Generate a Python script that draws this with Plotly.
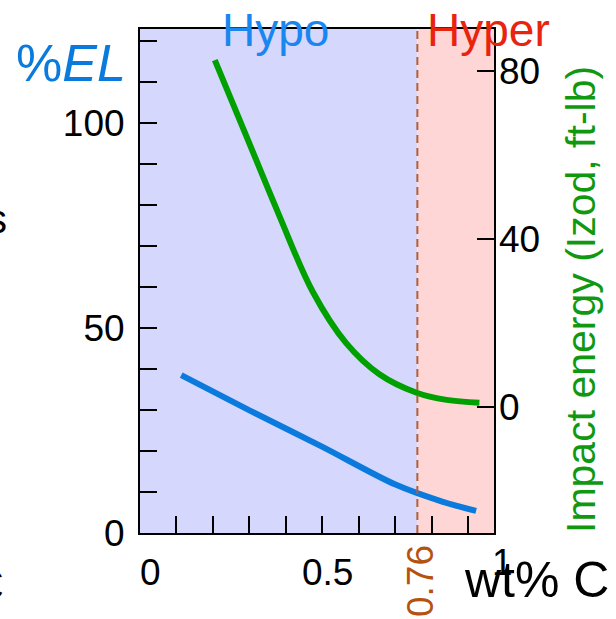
import plotly.graph_objects as go

# ---- data ----
el_x = [0.113, 0.300, 0.500, 0.700, 0.830, 0.921]
el_y = [38.5, 29.9, 21.0, 11.8, 7.6, 5.4]

imp_x = [0.205, 0.290, 0.381, 0.473, 0.565, 0.656, 0.758, 0.840, 0.930]
imp_y = [82.6, 64.8, 45.7, 27.5, 15.2, 7.8, 3.4, 1.7, 1.0]

eutectoid = 0.76
x_range = [0, 0.97]
left_range = [0, 122.9]
right_range = [-30, 90]

x_minor_ticks = [0.1, 0.2, 0.3, 0.4, 0.5, 0.6, 0.7, 0.8, 0.9]
x_tick_text = ["0", "0.5", "1"]
left_tick_vals = [0, 50, 100]
right_tick_vals = [0, 40, 80]

FONT = "Liberation Sans, Arial, Helvetica, sans-serif"
BLUE = "#0a7bdc"
GREEN = "#00a000"
RED = "#e8240c"
BROWN = "#b5520f"

W, H = 616, 619
L, R, T, B = 140, 122, 29, 86
PW, PH = W - L - R, H - T - B


def px(x):
    return (x - L) / PW


def py(y):
    return (H - B - y) / PH


fig = go.Figure()

fig.add_trace(go.Scatter(x=el_x, y=el_y, mode="lines",
                         line=dict(color=BLUE, width=6, shape="spline", smoothing=0.8),
                         showlegend=False, hoverinfo="skip", yaxis="y"))
fig.add_trace(go.Scatter(x=imp_x, y=imp_y, mode="lines",
                         line=dict(color=GREEN, width=6, shape="spline", smoothing=1.0),
                         showlegend=False, hoverinfo="skip", yaxis="y2"))

shapes = [
    dict(type="rect", xref="x", yref="paper", x0=x_range[0], x1=eutectoid, y0=0, y1=1,
         fillcolor="#d5d7fd", line=dict(width=0), layer="below"),
    dict(type="rect", xref="x", yref="paper", x0=eutectoid, x1=x_range[1], y0=0, y1=1,
         fillcolor="#fed6d6", line=dict(width=0), layer="below"),
    dict(type="line", xref="x", yref="paper", x0=eutectoid, x1=eutectoid, y0=0, y1=1,
         line=dict(color="#b0603a", width=2, dash="8px,5px")),
]

annotations = []
# x tick labels
x_label_pos = [(150, 572), (327, 572), (502, 562)]
for (xp_, yp_), t in zip(x_label_pos, x_tick_text):
    annotations.append(dict(xref="paper", yref="paper", x=px(xp_), y=py(yp_), text=t,
                            showarrow=False, xanchor="center", yanchor="middle",
                            font=dict(family=FONT, size=37, color="black")))
# eutectoid label
annotations.append(dict(xref="paper", yref="paper", x=px(420), y=py(581), text=f"{eutectoid}",
                        textangle=-90, showarrow=False, xanchor="center", yanchor="middle",
                        font=dict(family=FONT, size=37, color=BROWN)))
# wt% C
annotations.append(dict(xref="paper", yref="paper", x=px(462), y=py(580), text="wt% C",
                        showarrow=False, xanchor="left", yanchor="middle",
                        font=dict(family=FONT, size=50, color="black")))
# Hypo / Hyper
annotations.append(dict(xref="paper", yref="paper", x=px(275), y=py(30), text="Hypo",
                        showarrow=False, xanchor="center", yanchor="middle",
                        font=dict(family=FONT, size=46, color="#1a86f0")))
annotations.append(dict(xref="paper", yref="paper", x=px(488), y=py(30), text="Hyper",
                        showarrow=False, xanchor="center", yanchor="middle",
                        font=dict(family=FONT, size=46, color=RED)))
# %EL
annotations.append(dict(xref="paper", yref="paper", x=px(128), y=py(63), text="%<i>EL</i>",
                        showarrow=False, xanchor="right", yanchor="middle",
                        font=dict(family=FONT, size=52, color=BLUE)))
# right axis title
annotations.append(dict(xref="paper", yref="paper", x=px(581), y=py(300),
                        text="Impact energy (Izod, ft-lb)", textangle=-90,
                        showarrow=False, xanchor="center", yanchor="middle",
                        font=dict(family=FONT, size=41, color="#109910")))
# cut-off text from neighbouring panel
annotations.append(dict(xref="paper", yref="paper", x=px(9), y=py(219), text="s",
                        showarrow=False, xanchor="right", yanchor="middle",
                        font=dict(family=FONT, size=40, color="black")))
annotations.append(dict(xref="paper", yref="paper", x=px(6), y=py(584), text="C",
                        showarrow=False, xanchor="right", yanchor="middle",
                        font=dict(family=FONT, size=47, color="black")))

fig.update_layout(
    width=W, height=H,
    margin=dict(l=L, r=R, t=T, b=B, pad=0),
    paper_bgcolor="white", plot_bgcolor="white",
    showlegend=False, hovermode=False,
    font=dict(family=FONT, size=37, color="black"),
    shapes=shapes,
    annotations=annotations,
    xaxis=dict(range=x_range, tickvals=x_minor_ticks, ticks="inside", ticklen=17,
               tickwidth=2, tickcolor="black", showticklabels=False,
               showline=True, linecolor="black", linewidth=2, mirror=True,
               showgrid=False, zeroline=False),
    yaxis=dict(range=left_range, tickvals=left_tick_vals, ticks="inside", ticklen=17,
               tickwidth=2, tickcolor="black", ticklabelstandoff=6,
               tickfont=dict(family=FONT, size=37, color="black"),
               minor=dict(dtick=10, tick0=0, ticks="inside", ticklen=17, tickwidth=2,
                          tickcolor="black", showgrid=False),
               showline=True, linecolor="black", linewidth=2, mirror=True,
               showgrid=False, zeroline=False),
    yaxis2=dict(range=right_range, tickvals=right_tick_vals, ticks="inside", ticklen=17,
                tickwidth=2, tickcolor="black", overlaying="y", side="right",
                ticklabelstandoff=4,
                tickfont=dict(family=FONT, size=37, color="black"),
                showline=False, showgrid=False, zeroline=False),
)

fig.write_html("out.html", config={"displayModeBar": False},
               post_script="document.body.style.margin='0';document.body.style.overflow='hidden';")
